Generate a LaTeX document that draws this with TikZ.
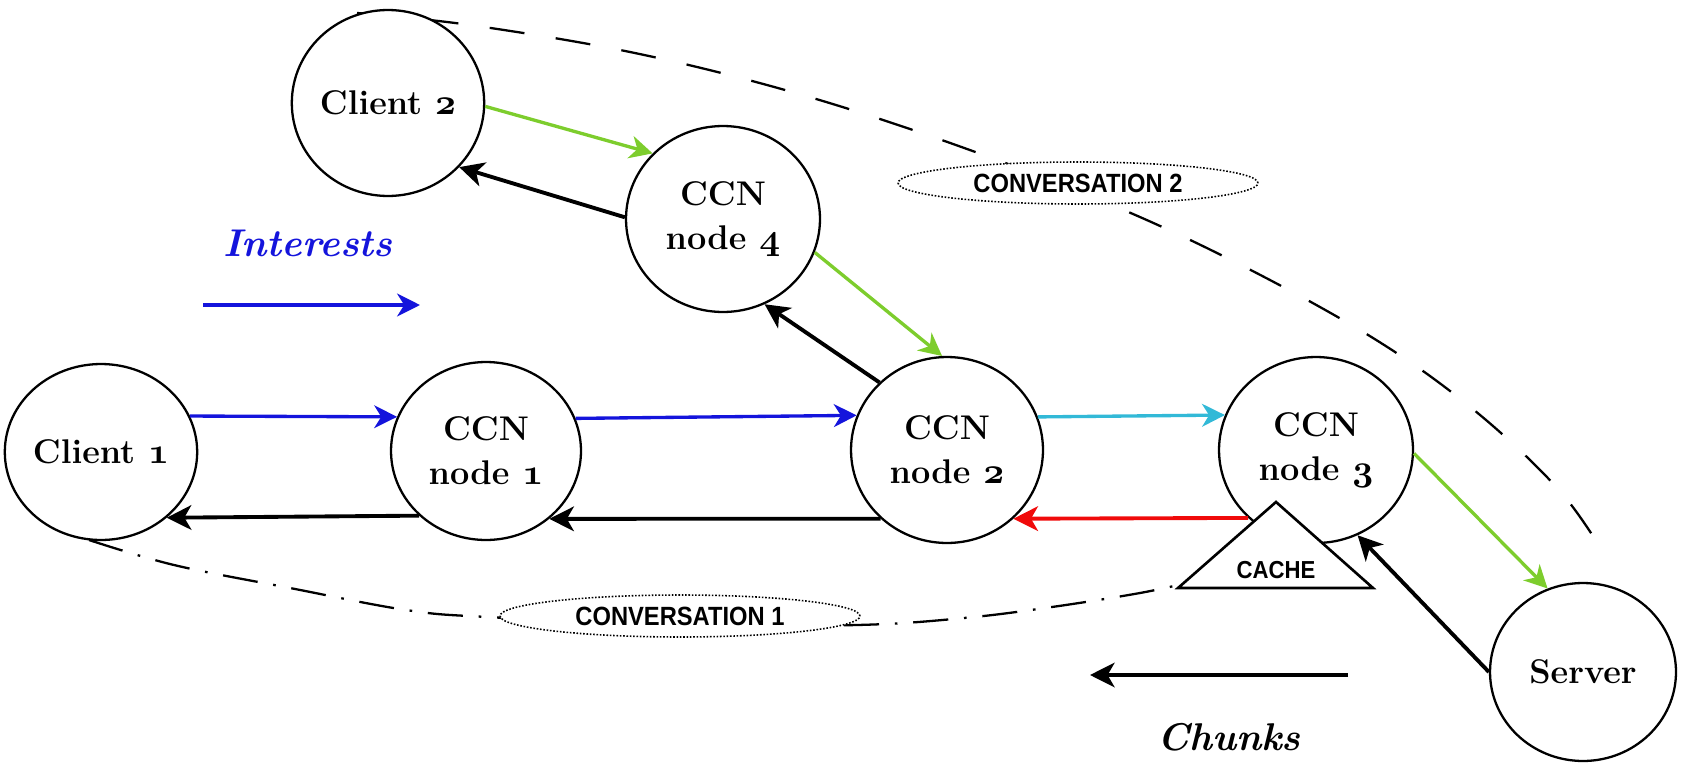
\documentclass[tikz,border=0pt]{standalone}
\usepackage{fontspec}
\newfontfamily\labelfont[FakeStretch=0.9]{Liberation Sans}
\usetikzlibrary{arrows.meta,shapes.geometric}
\definecolor{ablue}{RGB}{20,20,220}
\definecolor{agreen}{RGB}{125,205,45}
\definecolor{acyan}{RGB}{50,185,215}
\definecolor{ared}{RGB}{240,10,10}
\newcommand{\osn}[1]{{\usefont{OML}{cmm}{b}{it}#1}}
\begin{document}
\begin{tikzpicture}[x=0.02cm,y=-0.02cm,
  peer/.style={ellipse, draw, line width=1.3pt, fill=white, inner sep=0pt,
    font=\fontsize{19.5}{25}\selectfont\bfseries, align=center},
  arr/.style={line width=2.2pt, -{Stealth[length=14pt,width=14pt,inset=4pt]}},
  thinarr/.style={line width=1.9pt, -{Stealth[length=13pt,width=13pt,inset=4pt]}},
  convlabel/.style={ellipse, draw, densely dotted, line width=0.9pt, fill=white,
    minimum width=7.2cm, minimum height=0.84cm, inner sep=0pt,
    font=\labelfont\bfseries\fontsize{15}{17}\selectfont},
  legend/.style={font=\fontsize{22}{26}\selectfont\bfseries\itshape}]
\useasboundingbox (0,0) rectangle (1687,764);

% conversation curves
\draw[line width=1.3pt, dash pattern=on 20pt off 18pt]
  plot[smooth, tension=0.6] coordinates {(357,13) (470,25) (630,52) (785,90) (936,138) (1100,200) (1235,262) (1373,338) (1474,410) (1559,490) (1606,557)};
\draw[line width=1.3pt, dash pattern=on 20pt off 9pt on 1.5pt off 9pt]
  plot[smooth, tension=0.6] coordinates {(89,540) (174,565) (290,588) (406,610) (487,617) (680,625) (857,625) (964,618) (1052,607) (1140,593) (1191,582)};

\node[convlabel] (conv2) at (1078,183) {CONVERSATION 2};
\node[convlabel] (conv1) at (680,616) {CONVERSATION 1};

% nodes
\node[peer, minimum width=3.6cm, minimum height=3.52cm] (c1) at (101,452) {Client \osn{1}};
\node[peer, minimum width=3.8cm, minimum height=3.56cm] (n1) at (486,451) {CCN\\node \osn{1}};
\node[peer, minimum width=3.84cm, minimum height=3.72cm] (n2) at (947,450) {CCN\\node \osn{2}};
\node[peer, minimum width=3.88cm, minimum height=3.72cm] (n3) at (1316,450) {CCN\\node \osn{3}};
\node[peer, minimum width=3.72cm, minimum height=3.56cm] (sv) at (1583,672) {Server};
\node[peer, minimum width=3.84cm, minimum height=3.72cm] (c2) at (388,103) {Client \osn{2}};
\node[peer, minimum width=3.88cm, minimum height=3.72cm] (n4) at (723,219) {CCN\\node \osn{4}};

% cache
\coordinate (ca) at (1276,502);
\coordinate (cb) at (1178,588);
\coordinate (cc) at (1373,588);
\draw[line width=1.5pt, fill=white, line join=miter] (ca) -- (cb) -- (cc) -- cycle;
\node[font=\labelfont\bfseries\fontsize{14}{16}\selectfont] (cache) at (1276,570) {CACHE};

% interests
\draw[thinarr, ablue] (c1.22.3) -- (n1.159.5);
\draw[thinarr, ablue] (n1.20.5) -- (n2.159.2);
\draw[thinarr, acyan] (n2.20.8) -- (n3.159.4);
\draw[thinarr, agreen] (c2.-2) -- (n4.137.5);
\draw[thinarr, agreen] (n4.-20.7) -- (n2.93);
\draw[thinarr, agreen] (n3.-2) -- (sv.113.5);

% chunks
\draw[arr, ared] (n3.225.8) -- (n2.-46.1);
\draw[arr] (n2.226.1) -- (n1.-47);
\draw[arr] (n1.224.1) -- (c1.-45.1);
\draw[arr] (n4.179) -- (c2.-42.2);
\draw[arr] (n2.135.8) -- (n4.-64.2);
\draw[arr] (sv.180) -- (n3.-64.2);

% legend
\node[legend, text=ablue] (lint) at (308,243) {Interests};
\coordinate (li1) at (203,305);
\coordinate (li2) at (420,305);
\draw[thinarr, ablue, line width=2.2pt] (li1) -- (li2);
\node[legend] (lchk) at (1229,737) {Chunks};
\coordinate (lc1) at (1348,675);
\coordinate (lc2) at (1090,675);
\draw[arr] (lc1) -- (lc2);
\end{tikzpicture}
\end{document}
